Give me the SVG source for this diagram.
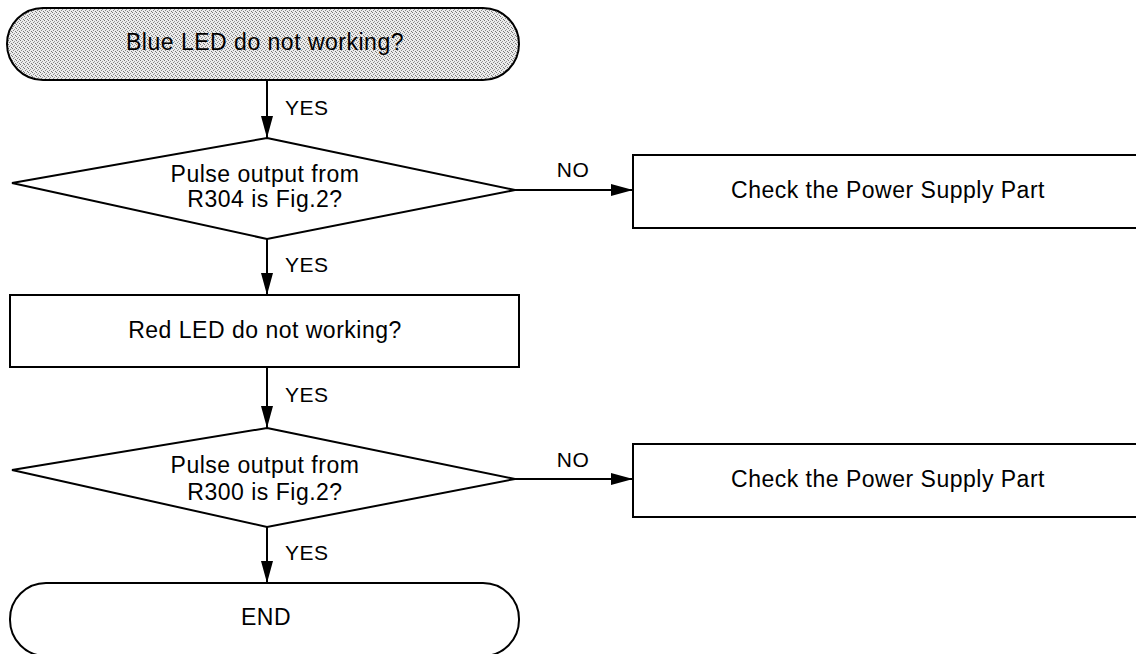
<svg xmlns="http://www.w3.org/2000/svg" width="1136" height="654" viewBox="0 0 1136 654">
<style>
.shape{fill:#fff;stroke:#000;stroke-width:2}
.conn{stroke:#000;stroke-width:2;fill:none}
.t{font-family:"Liberation Sans",Arial,sans-serif;font-size:23px;letter-spacing:0.5px;fill:#000;text-anchor:middle}
.lbl{font-family:"Liberation Sans",Arial,sans-serif;font-size:21px;letter-spacing:0.5px;fill:#000}
</style>
<defs>
<pattern id="dots" width="4" height="4" patternUnits="userSpaceOnUse">
<rect width="4" height="4" fill="#ececec"/>
<rect x="0" y="0" width="1" height="1" fill="#777"/>
<rect x="2" y="1" width="1" height="1" fill="#999"/>
<rect x="1" y="2" width="1" height="1" fill="#888"/>
<rect x="3" y="3" width="1" height="1" fill="#777"/>
</pattern>
<marker id="arr" viewBox="0 0 22 12" markerWidth="22" markerHeight="12" markerUnits="userSpaceOnUse" refX="22" refY="6" orient="auto">
<path d="M0,0 L22,6 L0,12 z" fill="#000"/>
</marker>
</defs>

<g id="connectors">
<line class="conn" x1="267" y1="80" x2="267" y2="138" marker-end="url(#arr)"/>
<line class="conn" x1="267" y1="239" x2="267" y2="295" marker-end="url(#arr)"/>
<line class="conn" x1="267" y1="367" x2="267" y2="428" marker-end="url(#arr)"/>
<line class="conn" x1="267" y1="527" x2="267" y2="583" marker-end="url(#arr)"/>
<line class="conn" x1="515" y1="190" x2="633" y2="190" marker-end="url(#arr)"/>
<line class="conn" x1="515" y1="479" x2="633" y2="479" marker-end="url(#arr)"/>
<text class="lbl" x="285" y="115">YES</text>
<text class="lbl" x="285" y="272">YES</text>
<text class="lbl" x="285" y="402">YES</text>
<text class="lbl" x="285" y="560">YES</text>
<text class="lbl" x="573" y="177" text-anchor="middle">NO</text>
<text class="lbl" x="573" y="467" text-anchor="middle">NO</text>
</g>

<g id="start">
<rect x="7" y="8" width="512" height="72" rx="36" ry="36" fill="url(#dots)" stroke="#000" stroke-width="2"/>
<text class="t" x="265" y="50">Blue LED do not working?</text>
</g>

<g id="decision1">
<polygon class="shape" points="267,138 515,190 267,239 12,183"/>
<text class="t" x="265" y="182">Pulse output from</text>
<text class="t" x="265" y="207">R304 is Fig.2?</text>
</g>

<g id="check1">
<rect class="shape" x="633" y="155" width="520" height="73"/>
<text class="t" x="888" y="198">Check the Power Supply Part</text>
</g>

<g id="redled">
<rect class="shape" x="10" y="295" width="509" height="72"/>
<text class="t" x="265" y="338">Red LED do not working?</text>
</g>

<g id="decision2">
<polygon class="shape" points="267,428 515,479 267,527 12,470"/>
<text class="t" x="265" y="473">Pulse output from</text>
<text class="t" x="265" y="500">R300 is Fig.2?</text>
</g>

<g id="check2">
<rect class="shape" x="633" y="444" width="520" height="73"/>
<text class="t" x="888" y="487">Check the Power Supply Part</text>
</g>

<g id="end">
<rect class="shape" x="10" y="583" width="509" height="73" rx="36" ry="36"/>
<text class="t" x="266" y="625">END</text>
</g>
</svg>
